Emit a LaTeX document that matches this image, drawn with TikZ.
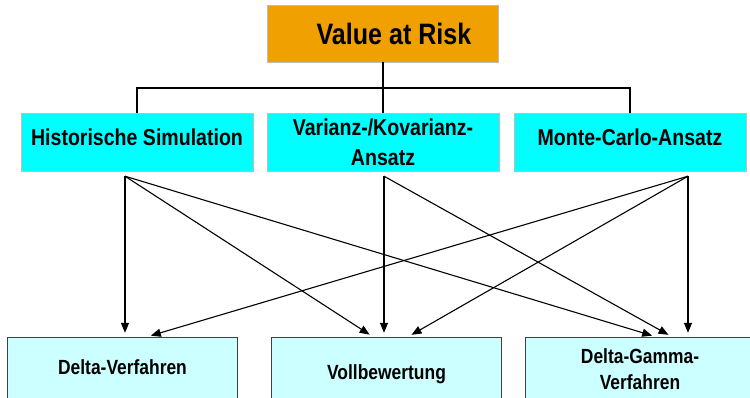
\documentclass[tikz,border=0pt]{standalone}
\usepackage{fontspec}
\setmainfont{Liberation Sans}[FakeStretch=0.85]
\usepackage{tikz}
\usetikzlibrary{arrows.meta}
\definecolor{varorange}{HTML}{F0A000}
\definecolor{methcyan}{HTML}{00FFFF}
\definecolor{calccyan}{HTML}{CCFFFF}
\definecolor{boxgray}{HTML}{BDBDBD}

\begin{document}
\begin{tikzpicture}[x=1pt,y=-1pt,
	topbox/.style={draw=boxgray,fill=varorange,minimum width=231pt,minimum height=57pt,inner sep=0pt,font=\fontsize{29.5}{32}\selectfont\bfseries},
	methbox/.style={draw=boxgray,fill=methcyan,minimum width=232pt,minimum height=58pt,inner sep=0pt,align=center,font=\fontsize{23}{30}\selectfont\bfseries},
	calcbox/.style={draw=black!75,fill=calccyan,minimum width=230pt,minimum height=64pt,inner sep=0pt,align=center,font=\fontsize{20.5}{26}\selectfont\bfseries},
	arr/.style={-{Triangle[length=10pt,width=8pt]},line width=1.1pt,shorten >=4pt}]
	\clip (0,0) rectangle (750,398);
	\node[topbox] (var) at (383,33.5) {\hspace*{22pt}Value at Risk};
	\node[methbox,text depth=9pt] (hist) at (137,142) {Historische Simulation};
	\node[methbox] (vk) at (383,142) {Varianz-/Kovarianz-\\Ansatz};
	\node[methbox,text depth=9pt] (mc) at (630,142) {Monte-Carlo-Ansatz};
	\node[calcbox,text depth=4pt] (delta) at (122.5,369) {Delta-Verfahren};
	\node[calcbox,text height=25pt,text depth=5pt] (voll) at (386.5,369) {Vollbewertung};
	\node[calcbox] (dg) at (640,369) {Delta-Gamma-\\Verfahren};
	% tree
	\coordinate (bus) at (383,88);
	\draw[line width=1.1pt] (var) -- (vk);
	\draw[line width=1.1pt] (hist.north) |- (bus) -| (mc.north);
	% arrows
	\coordinate (hsout) at ([xshift=-12pt,yshift=-5pt]hist.south);
	\coordinate (vkout) at ([xshift=1pt,yshift=-5pt]vk.south);
	\coordinate (mcout) at ([xshift=58pt,yshift=-5pt]mc.south);
	\draw[arr] (hsout) -- (hsout |- delta.north);
	\draw[arr] (hsout) -- ([xshift=-13.5pt]voll.north);
	\draw[arr] (hsout) -- ([xshift=16pt]dg.north);
	\draw[arr] (vkout) -- (vkout |- voll.north);
	\draw[arr] (vkout) -- ([xshift=32pt]dg.north);
	\draw[arr] (mcout) -- ([xshift=24.5pt]delta.north);
	\draw[arr] (mcout) -- ([xshift=21.5pt]voll.north);
	\draw[arr] (mcout) -- (mcout |- dg.north);
\end{tikzpicture}
\end{document}
